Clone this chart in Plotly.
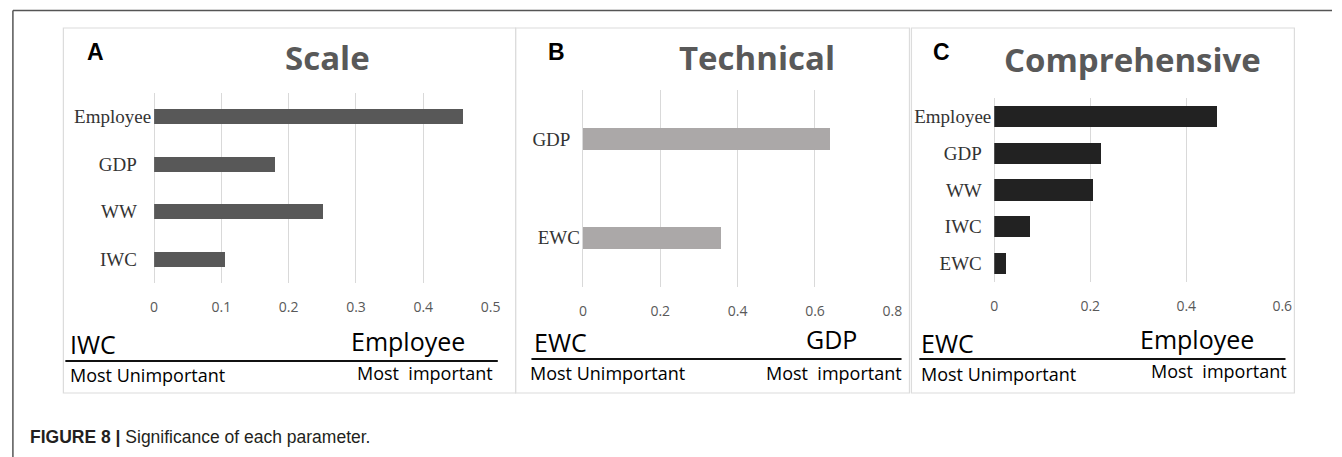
import plotly.graph_objects as go

W, H = 1342, 457

# ---- data ----
scale_params = ["Employee", "GDP", "WW", "IWC"]
scale_values = [0.459, 0.180, 0.251, 0.106]
scale_ticks = [0, 0.1, 0.2, 0.3, 0.4, 0.5]

tech_params = ["GDP", "EWC"]
tech_values = [0.639, 0.358]
tech_ticks = [0, 0.2, 0.4, 0.6, 0.8]

comp_params = ["Employee", "GDP", "WW", "IWC", "EWC"]
comp_values = [0.464, 0.223, 0.207, 0.076, 0.024]
comp_ticks = [0, 0.2, 0.4, 0.6]

panel_titles = ["Scale", "Technical", "Comprehensive"]
panel_letters = ["A", "B", "C"]
least_labels = ["IWC", "EWC", "EWC"]
most_labels = ["Employee", "GDP", "Employee"]
caption_bold = "FIGURE 8 |"
caption_text = " Significance of each parameter."

NB = "\u00a0"


def px_x(x):
    return x / W


def px_y(y):
    return 1 - y / H


fig = go.Figure()

panels = [
    dict(params=scale_params, vals=scale_values, ticks=scale_ticks, color="#585858",
         width=0.32, xd=(151.7, 491.7), yd=(93, 283), pad=[0, 3, 3, 3]),
    dict(params=tech_params, vals=tech_values, ticks=tech_ticks, color="#ABA8A8",
         width=0.22, xd=(585, 897.7), yd=(90, 287), pad=[2, 0]),
    dict(params=comp_params, vals=comp_values, ticks=comp_ticks, color="#222222",
         width=0.58, xd=(1000.7, 1291.7), yd=(98, 282), pad=[0, 2, 2, 2, 2]),
]

layout_axes = {}
for i, p in enumerate(panels):
    n = "" if i == 0 else str(i + 1)
    fig.add_trace(go.Bar(
        x=p["vals"], y=p["params"], orientation="h",
        marker=dict(color=p["color"], line=dict(width=0)),
        width=p["width"], xaxis="x" + n, yaxis="y" + n, showlegend=False,
        hoverinfo="x+y",
    ))
    layout_axes["xaxis" + n] = dict(
        domain=[px_x(p["xd"][0]), px_x(p["xd"][1])],
        anchor="y" + n, range=[0, p["ticks"][-1]], tickvals=p["ticks"],
        showgrid=True, gridcolor="#D9D9D9", gridwidth=1,
        zeroline=True, zerolinecolor="#D9D9D9", zerolinewidth=1,
        showline=False, ticks="", ticklabelstandoff=14,
        tickfont=dict(family="Open Sans", size=14, color="#595959"),
        fixedrange=True,
    )
    ticktext = [lab + NB * k for lab, k in zip(p["params"], p["pad"])]
    layout_axes["yaxis" + n] = dict(
        domain=[px_y(p["yd"][1]), px_y(p["yd"][0])],
        anchor="x" + n, type="category",
        categoryorder="array", categoryarray=p["params"],
        tickvals=p["params"], ticktext=ticktext,
        range=[len(p["params"]) - 0.5, -0.5],
        showgrid=False, zeroline=False, showline=False, ticks="",
        ticklabelstandoff=2,
        tickfont=dict(family="Liberation Serif", size=19, color="#333333"),
        fixedrange=True,
    )

shapes = []
# outer frame lines
shapes.append(dict(type="line", xref="paper", yref="paper", x0=px_x(9), x1=1,
                   y0=px_y(10.5), y1=px_y(10.5), line=dict(color="#555555", width=1.5)))
shapes.append(dict(type="line", xref="paper", yref="paper", x0=px_x(9), x1=px_x(9),
                   y0=px_y(10.5), y1=0, line=dict(color="#555555", width=1.5)))
# panel boxes
for (x0, x1) in [(60, 517), (517, 915), (917, 1304)]:
    shapes.append(dict(type="rect", xref="paper", yref="paper",
                       x0=px_x(x0), x1=px_x(x1), y0=px_y(393), y1=px_y(28),
                       line=dict(color="#DCDCDC", width=1.2), fillcolor="rgba(0,0,0,0)"))
# underline rules
for (x0, x1, y) in [(62, 499, 361), (533, 907, 359), (925, 1295, 359)]:
    shapes.append(dict(type="line", xref="paper", yref="paper",
                       x0=px_x(x0), x1=px_x(x1), y0=px_y(y), y1=px_y(y),
                       line=dict(color="#111111", width=1.8)))

ann = []
title_pos = [(327, 57), (761, 58), (1140, 59)]
letter_pos = [(82, 52), (548, 52), (937, 52)]
for t, (x, y) in zip(panel_titles, title_pos):
    ann.append(dict(text=t, x=px_x(x), y=px_y(y), xref="paper", yref="paper",
                    xanchor="center", yanchor="middle", showarrow=False,
                    font=dict(family="Open Sans", size=33, color="#595959", weight="bold")))
for t, (x, y) in zip(panel_letters, letter_pos):
    ann.append(dict(text=t, x=px_x(x), y=px_y(y), xref="paper", yref="paper",
                    xanchor="left", yanchor="middle", showarrow=False,
                    font=dict(family="Liberation Sans", size=23, color="#000000", weight="bold")))

least_pos = [(66, 344), (535, 342), (926, 343)]
most_pos = [(467, 341), (863, 339), (1264, 339)]
for t, (x, y) in zip(least_labels, least_pos):
    ann.append(dict(text=t, x=px_x(x), y=px_y(y), xref="paper", yref="paper",
                    xanchor="left", yanchor="middle", showarrow=False, borderpad=0,
                    font=dict(family="Open Sans", size=25, color="#000000")))
for t, (x, y) in zip(most_labels, most_pos):
    ann.append(dict(text=t, x=px_x(x), y=px_y(y), xref="paper", yref="paper",
                    xanchor="right", yanchor="middle", showarrow=False, borderpad=0,
                    font=dict(family="Open Sans", size=25, color="#000000")))

unimp_pos = [(66, 375), (531, 373), (926, 374)]
imp_pos = [(495, 373), (908, 373), (1298, 371)]
for (x, y) in unimp_pos:
    ann.append(dict(text="Most Unimportant", x=px_x(x), y=px_y(y), xref="paper", yref="paper",
                    xanchor="left", yanchor="middle", showarrow=False, borderpad=0,
                    font=dict(family="Open Sans", size=18, color="#000000")))
for (x, y) in imp_pos:
    ann.append(dict(text="Most" + NB + NB + "important", x=px_x(x), y=px_y(y),
                    xref="paper", yref="paper", borderpad=0,
                    xanchor="right", yanchor="middle", showarrow=False,
                    font=dict(family="Open Sans", size=18, color="#000000")))

ann.append(dict(text="<b>" + caption_bold + "</b>" + caption_text,
                x=px_x(24), y=px_y(437), xref="paper", yref="paper",
                xanchor="left", yanchor="middle", showarrow=False,
                font=dict(family="Liberation Sans", size=17.5, color="#231F20")))

fig.update_layout(
    width=W, height=H, margin=dict(l=0, r=0, t=0, b=0),
    paper_bgcolor="white", plot_bgcolor="white",
    shapes=shapes, annotations=ann, bargap=0, **layout_axes,
)

fig.write_html("out.html", config={"displayModeBar": False},
               post_script="document.body.style.margin='0';document.body.style.overflow='hidden';")
